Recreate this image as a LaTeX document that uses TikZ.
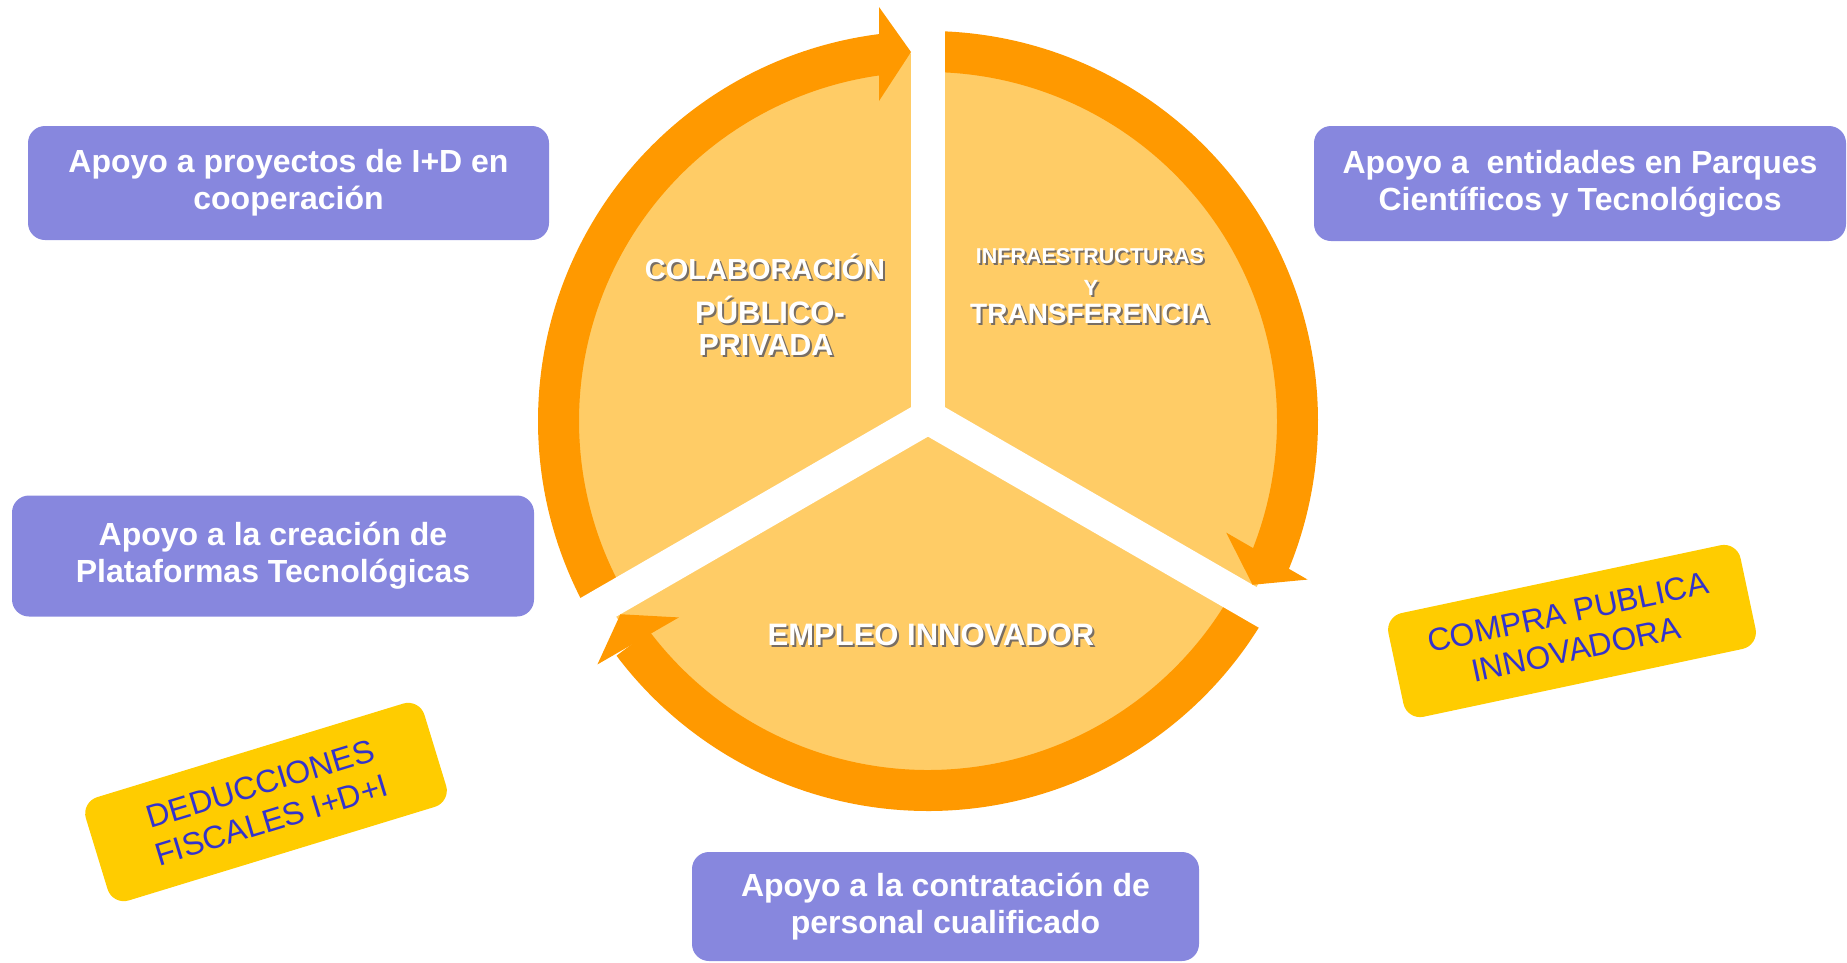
\documentclass[tikz,border=0pt]{standalone}
\usepackage{fontspec}
\setmainfont{Liberation Sans}
\usetikzlibrary{calc}
\definecolor{ringorange}{RGB}{255,153,0}
\definecolor{pale}{RGB}{255,204,102}
\definecolor{boxblue}{RGB}{135,135,222}
\definecolor{boxyellow}{RGB}{255,204,0}
\definecolor{txtblue}{RGB}{51,51,204}
\definecolor{shadowgray}{RGB}{120,110,100}
\tikzset{
  pbox/.style={fill=boxblue, rounded corners=17pt, text=white, align=center, inner sep=0pt,
    font=\bfseries\fontsize{32pt}{37pt}\selectfont},
  ybox/.style={fill=boxyellow, rounded corners=17pt, text=txtblue, align=center, inner sep=0pt,
    font=\fontsize{32pt}{38pt}\selectfont},
  sect/.style={text=white, anchor=base, inner sep=0pt},
  ringpart/.style={fill=ringorange},
  gapband/.style={draw=white, line width=34pt}
}
\newcommand\shadowed[1]{\rlap{\kern2pt\raisebox{-2pt}{\textcolor{shadowgray}{#1}}}#1}
\begin{document}
\begin{tikzpicture}[x=1pt,y=1pt]
\useasboundingbox (0,0) rectangle (1847,-962);
\coordinate (c) at (928,-421);
\coordinate (yc) at (928,-417);
% pale disk
\fill[pale] (c) circle[radius=368];
% ring bodies
\foreach \a/\b in {210/97, 90/-23, -30/-143}{
  \fill[ringpart] ($(c)+(\a:390)$) arc[start angle=\a, end angle=\b, radius=390]
    -- ($(c)+(\b:349)$) arc[start angle=\b, end angle=\a, radius=349] -- cycle;
}
% white gaps
\foreach \p in {90,210,330}{
  \draw[gapband] (yc) -- ($(yc)+(\p:420)$);
}
% arrow heads
\foreach \p in {90,-30,210}{
  \fill[ringpart] ($(yc)+(\p:410)+(\p+90:49)$) -- ($(yc)+(\p:365)+(\p+90:17)$)
    -- ($(yc)+(\p:316)+(\p+90:49)$) -- cycle;
}
% sector texts
\node[sect, font=\bfseries\fontsize{29pt}{31pt}\selectfont] (colab) at (765,-279) {\shadowed{COLABORACIÓN}};
\node[sect, font=\bfseries\fontsize{31pt}{33pt}\selectfont] (publico) at (770,-323) {\shadowed{PÚBLICO-}};
\node[sect, font=\bfseries\fontsize{30.5pt}{33pt}\selectfont] (privada) at (766,-355) {\shadowed{PRIVADA}};
\node[sect, font=\bfseries\fontsize{21.5pt}{23pt}\selectfont] (infra) at (1090,-263.5) {\shadowed{INFRAESTRUCTURAS}};
\node[sect, font=\bfseries\fontsize{22pt}{24pt}\selectfont] (yy) at (1091,-295.5) {\shadowed{Y}};
\node[sect, font=\bfseries\fontsize{28pt}{30pt}\selectfont] (transf) at (1090,-323) {\shadowed{TRANSFERENCIA}};
\node[sect, font=\bfseries\fontsize{31pt}{33pt}\selectfont] (empleo) at (931,-645) {\shadowed{EMPLEO INNOVADOR}};
% purple boxes
\node[pbox, minimum width=521pt, minimum height=114pt] (b1) at (288.5,-183) {Apoyo a proyectos de I+D en\\cooperación};
\node[pbox, minimum width=522pt, minimum height=121pt] (b2) at (273,-556) {Apoyo a la creación de\\Plataformas Tecnológicas};
\node[pbox, minimum width=532pt, minimum height=115pt] (b3) at (1580,-183.5) {Apoyo a\ \ entidades en Parques\\Científicos y Tecnológicos};
\node[pbox, minimum width=507pt, minimum height=109pt] (b4) at (945.5,-906.5) {Apoyo a la contratación de\\personal cualificado};
% yellow boxes
\node[ybox, rotate=12, minimum width=360pt, minimum height=106pt] (compra) at (1572,-631) {COMPRA PUBLICA\\INNOVADORA};
\node[ybox, rotate=17, minimum width=354pt, minimum height=108pt] (deduc) at (266,-802) {DEDUCCIONES\\FISCALES I+D+I};
\end{tikzpicture}
\end{document}
